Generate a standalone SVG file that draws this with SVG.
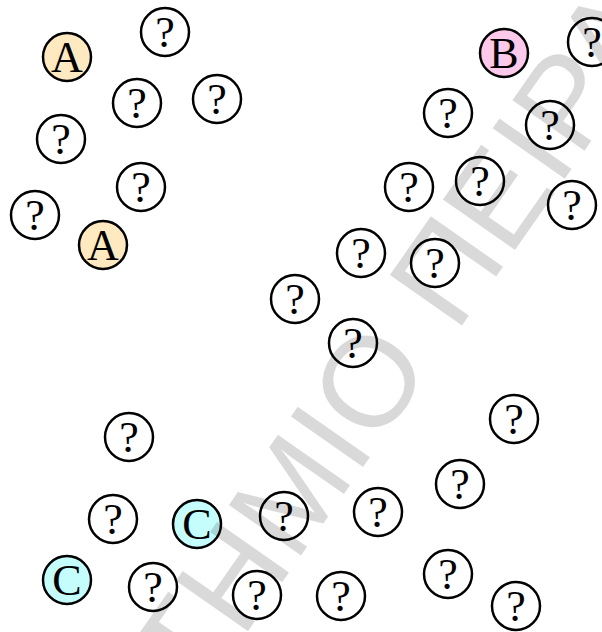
<svg xmlns="http://www.w3.org/2000/svg" width="602" height="632" viewBox="0 0 602 632">
<style>
.n circle{stroke:#000;stroke-width:2.5;fill:#fff}
.n text{font-family:"Liberation Serif","Times New Roman",serif;font-size:44px;text-anchor:middle;fill:#000}
.a circle{fill:#fee9c0}
.b circle{fill:#fdc9ea}
.c circle{fill:#c5fdfd}
.wm{font-family:"Liberation Sans",Arial,sans-serif;font-size:128px;fill:#000;fill-opacity:0.15}
</style>
<rect width="602" height="632" fill="#fff"/>
<g id="nodes">
<g id="A1" class="n a"><circle cx="67" cy="57" r="24"/><text x="67" y="72">A</text></g>
<g id="n1" class="n"><circle cx="165" cy="32" r="24"/><text x="165" y="47">?</text></g>
<g id="n2" class="n"><circle cx="137" cy="103" r="24"/><text x="137" y="118">?</text></g>
<g id="n3" class="n"><circle cx="217" cy="99" r="24"/><text x="217" y="114">?</text></g>
<g id="n4" class="n"><circle cx="61" cy="139" r="24"/><text x="61" y="154">?</text></g>
<g id="n5" class="n"><circle cx="141" cy="187" r="24"/><text x="141" y="202">?</text></g>
<g id="n6" class="n"><circle cx="35" cy="215" r="24"/><text x="35" y="230">?</text></g>
<g id="A2" class="n a"><circle cx="103" cy="245" r="24"/><text x="103" y="260">A</text></g>
<g id="B" class="n b"><circle cx="504" cy="53" r="24"/><text x="504" y="68">B</text></g>
<g id="n7" class="n"><circle cx="592" cy="42" r="24"/><text x="592" y="57">?</text></g>
<g id="n8" class="n"><circle cx="448" cy="113" r="24"/><text x="448" y="128">?</text></g>
<g id="n9" class="n"><circle cx="550" cy="125" r="24"/><text x="550" y="140">?</text></g>
<g id="n10" class="n"><circle cx="409" cy="187" r="24"/><text x="409" y="202">?</text></g>
<g id="n11" class="n"><circle cx="480" cy="181" r="24"/><text x="480" y="196">?</text></g>
<g id="n12" class="n"><circle cx="572" cy="205" r="24"/><text x="572" y="220">?</text></g>
<g id="n13" class="n"><circle cx="361" cy="253" r="24"/><text x="361" y="268">?</text></g>
<g id="n14" class="n"><circle cx="435" cy="263" r="24"/><text x="435" y="278">?</text></g>
<g id="n15" class="n"><circle cx="295" cy="299" r="24"/><text x="295" y="314">?</text></g>
<g id="n16" class="n"><circle cx="353" cy="343" r="24"/><text x="353" y="358">?</text></g>
<g id="n17" class="n"><circle cx="129" cy="437" r="24"/><text x="129" y="452">?</text></g>
<g id="n18" class="n"><circle cx="113" cy="519" r="24"/><text x="113" y="534">?</text></g>
<g id="C1" class="n c"><circle cx="197" cy="524" r="24"/><text x="197" y="539">C</text></g>
<g id="n19" class="n"><circle cx="284" cy="516" r="24"/><text x="284" y="531">?</text></g>
<g id="C2" class="n c"><circle cx="67" cy="580" r="24"/><text x="67" y="595">C</text></g>
<g id="n20" class="n"><circle cx="153" cy="587" r="24"/><text x="153" y="602">?</text></g>
<g id="n21" class="n"><circle cx="257" cy="595" r="24"/><text x="257" y="610">?</text></g>
<g id="n22" class="n"><circle cx="341" cy="596" r="24"/><text x="341" y="611">?</text></g>
<g id="n23" class="n"><circle cx="514" cy="419" r="24"/><text x="514" y="434">?</text></g>
<g id="n24" class="n"><circle cx="460" cy="484" r="24"/><text x="460" y="499">?</text></g>
<g id="n25" class="n"><circle cx="378" cy="512" r="24"/><text x="378" y="527">?</text></g>
<g id="n26" class="n"><circle cx="448" cy="574" r="24"/><text x="448" y="589">?</text></g>
<g id="n27" class="n"><circle cx="516" cy="606" r="24"/><text x="516" y="621">?</text></g>
</g>
<g id="watermark" transform="translate(405,407) rotate(-55)">
<text class="wm" x="50" y="0" text-anchor="end">ΠΑΝΕΠΙΣΤΗΜΙΟ</text>
<text class="wm" x="89" y="0">ΠΕΙΡΑΙΩΣ</text>
</g>
</svg>
